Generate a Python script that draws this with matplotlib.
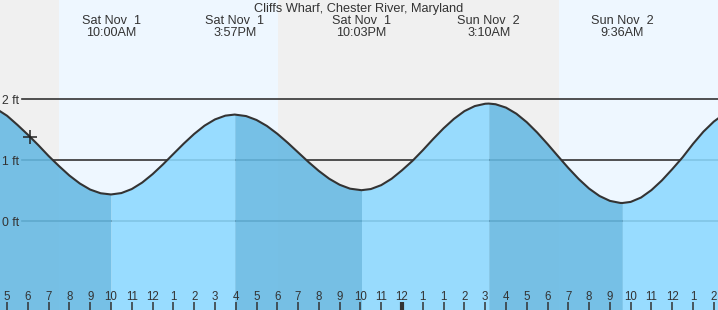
import numpy as np
import matplotlib
matplotlib.use("Agg")
import matplotlib.pyplot as plt

# time axis: elapsed hours since Sat Nov 1 00:00 (local, DST ends at t=26)
title = "Cliffs Wharf, Chester River, Maryland"

# tide extremes (elapsed hours, ft)
ext_t = [3.3, 10.0, 15.95, 22.05, 28.17, 34.6, 40.4]
ext_h = [1.91, 0.44, 1.75, 0.51, 1.93, 0.30, 1.85]
ext_day = ["Sat Nov  1", "Sat Nov  1", "Sat Nov  1", "Sat Nov  1", "Sun Nov  2", "Sun Nov  2", "Sun Nov  2"]
ext_clock = ["3:18AM", "10:00AM", "3:57PM", "10:03PM", "3:10AM", "9:36AM", "3:24PM"]

# curve every half hour
curve_t = [4.5, 5.0, 5.5, 6.0, 6.5, 7.0, 7.5, 8.0, 8.5, 9.0, 9.5,
           10.5, 11.0, 11.5, 12.0, 12.5, 13.0, 13.5, 14.0, 14.5, 15.0, 15.5,
           16.5, 17.0, 17.5, 18.0, 18.5, 19.0, 19.5, 20.0, 20.5, 21.0, 21.5,
           22.5, 23.0, 23.5, 24.0, 24.5, 25.0, 25.5, 26.0, 26.5, 27.0, 27.5, 28.0,
           28.5, 29.0, 29.5, 30.0, 30.5, 31.0, 31.5, 32.0, 32.5, 33.0, 33.5, 34.0, 34.5,
           35.0, 35.5, 36.0, 36.5, 37.0, 37.5, 38.0, 38.5, 39.0, 39.5]
curve_h = [1.84, 1.73, 1.58, 1.42, 1.25, 1.07, 0.905, 0.75, 0.62, 0.52, 0.46,
           0.463, 0.529, 0.635, 0.773, 0.933, 1.104, 1.274, 1.432, 1.568, 1.670, 1.732,
           1.725, 1.661, 1.563, 1.435, 1.288, 1.130, 0.972, 0.825, 0.697, 0.599, 0.535,
           0.529, 0.593, 0.698, 0.837, 0.99, 1.165, 1.35, 1.525, 1.68, 1.806, 1.889, 1.927,
           1.919, 1.864, 1.764, 1.625, 1.456, 1.267, 1.069, 0.874, 0.693, 0.536, 0.415, 0.335, 0.301,
           0.318, 0.390, 0.512, 0.67, 0.855, 1.05, 1.27, 1.47, 1.635, 1.76]

# sunrise / sunset (elapsed hours)
sun_edges = [7.50, 18.03, 31.53]

tick_t = list(range(5, 40))
tick_lab = ["5", "6", "7", "8", "9", "10", "11", "12", "1", "2", "3", "4", "5", "6", "7",
            "8", "9", "10", "11", "12", "1", "1", "2", "3", "4", "5", "6", "7", "8", "9",
            "10", "11", "12", "1", "2"]
midnight = 24

now_t, now_h = 6.1, 1.38

night_c = "#f0f0f0"
day_c = "#eef7ff"
rise_c = "#8cd9ff"
fall_c = "#65b9e3"
txt_c = "#333333"
fnt = "Liberation Sans"

t = np.array(curve_t + ext_t)
h = np.array(curve_h + ext_h)
o = np.argsort(t)
t, h = t[o], h[o]

fig = plt.figure(figsize=(7.18, 3.10), dpi=100)
ax = fig.add_axes([0, 0, 1, 1])
x0, x1 = 4.66, 39.2
ax.set_xlim(x0, x1)
ax.set_ylim(-1.454, 3.628)
ax.axis("off")

# day / night
edges = [x0 - 1] + sun_edges + [x1 + 1]
for i in range(len(edges) - 1):
    ax.axvspan(edges[i], edges[i + 1], color=night_c if i % 2 == 0 else day_c, lw=0, zorder=0)

# gridlines (under the water) + labels (over it)
for lv in [0, 1, 2]:
    ax.axhline(lv, xmin=22 / 718, color=txt_c, lw=1.2, zorder=1)
    ax.text(x0 + 2.5 / 20.79, lv - 0.02, "%d ft" % lv, color=txt_c, fontsize=8.8,
            family=fnt, va="center", ha="left", zorder=6)

# water, falling darker / rising lighter
for i in range(len(ext_t) - 1):
    m = (t >= ext_t[i]) & (t <= ext_t[i + 1])
    c = fall_c if ext_h[i + 1] < ext_h[i] else rise_c
    ax.fill_between(t[m], -2, h[m], color=c, alpha=0.88, lw=0, zorder=2)

ax.plot(t, h, color=txt_c, lw=1.5, zorder=4)
ax.plot(now_t, now_h, marker="+", ms=10, mew=1.1, color="#222222", zorder=5)

# bottom ticks
for tt, lab in zip(tick_t, tick_lab):
    ax.plot([tt, tt], [0, 8 / 310], transform=ax.get_xaxis_transform(),
            color=txt_c, lw=3 if tt == midnight else 1.1, zorder=5, solid_capstyle="butt")
    ax.text(tt, 13 / 310, lab, transform=ax.get_xaxis_transform(), ha="center", va="center",
            fontsize=8.3, color=txt_c, family=fnt, zorder=5)

# event labels (only those inside the window)
for tt, d, c in zip(ext_t, ext_day, ext_clock):
    if tt < x0 or tt > x1:
        continue
    ax.text(tt, 1 - 21 / 310, d, transform=ax.get_xaxis_transform(), ha="center", va="center",
            fontsize=9.1, color=txt_c, family=fnt, zorder=5)
    ax.text(tt, 1 - 33.5 / 310, c, transform=ax.get_xaxis_transform(), ha="center", va="center",
            fontsize=9.1, color=txt_c, family=fnt, zorder=5)

fig.text(0.5, 1 - 9 / 310, title, ha="center", va="center", fontsize=9.2,
         color=txt_c, family=fnt)

fig.savefig("out.png", dpi=100)
